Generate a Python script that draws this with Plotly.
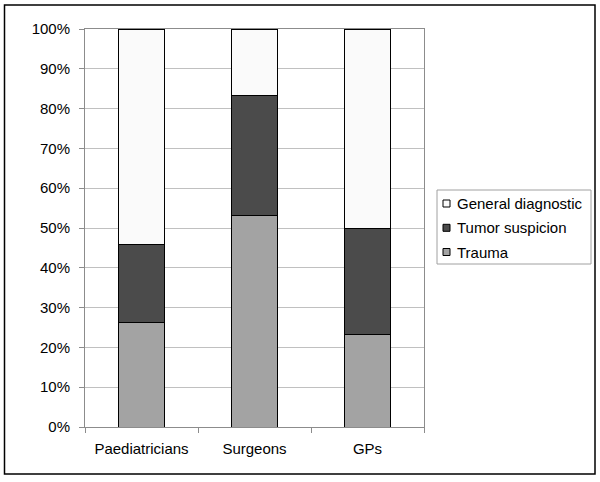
import plotly.graph_objects as go

categories = ["Paediatricians", "Surgeons", "GPs"]
series_names = ["Trauma", "Tumor suspicion", "General diagnostic"]
trauma = [26.2, 53.2, 23.3]
tumor = [19.6, 30.1, 26.7]
general = [54.2, 16.7, 50.0]
series_values = [trauma, tumor, general]
series_colors = ["#a3a3a3", "#4b4b4b", "#fafafa"]
y_ticks = [0, 10, 20, 30, 40, 50, 60, 70, 80, 90, 100]
y_tick_labels = [f"{v}%" for v in y_ticks]

fig = go.Figure()
for name, vals, col in zip(series_names, series_values, series_colors):
    fig.add_trace(go.Bar(name=name, x=categories, y=vals, showlegend=False,
                         marker=dict(color=col, line=dict(color="#000000", width=1))))

L, R, T, B = 85, 424, 29, 427
W, H = 600, 482
pw, ph = R - L, B - T
FONT = "Liberation Sans, Arial, sans-serif"
FS = 15

def px_x(p):
    return (p - L) / pw

def px_y(p):
    return (B - p) / ph

shapes = [dict(
    type="rect", xref="paper", yref="paper",
    x0=px_x(4.5), x1=px_x(595), y0=px_y(474), y1=px_y(5),
    line=dict(color="#000000", width=1.5), fillcolor="rgba(0,0,0,0)", layer="below",
)]
# legend box
shapes.append(dict(
    type="rect", xref="paper", yref="paper",
    x0=px_x(437), x1=px_x(591), y0=px_y(264), y1=px_y(190),
    line=dict(color="#a0a0a0", width=1), fillcolor="#ffffff", layer="below",
))
annotations = []
row_y = [203.5, 227.8, 252]
for i, (name, col) in enumerate(zip(reversed(series_names), reversed(series_colors))):
    yc = row_y[i]
    shapes.append(dict(
        type="rect", xref="paper", yref="paper",
        x0=px_x(443), x1=px_x(450), y0=px_y(yc + 3.5), y1=px_y(yc - 3.5),
        line=dict(color="#000000", width=1), fillcolor=col, layer="above",
    ))
    annotations.append(dict(
        text=name, xref="paper", yref="paper", x=px_x(455), y=px_y(yc),
        xanchor="left", yanchor="middle", showarrow=False,
        font=dict(family=FONT, size=FS, color="#000000"),
    ))

fig.update_layout(
    width=W, height=H,
    margin=dict(l=L, r=W - R, t=T, b=H - B, pad=0),
    barmode="stack",
    bargap=0.595,
    plot_bgcolor="#ffffff",
    paper_bgcolor="#ffffff",
    font=dict(family=FONT, size=FS, color="#000000"),
    showlegend=False,
    xaxis=dict(
        showline=True, linecolor="#8c8c8c", linewidth=1, mirror=True,
        ticks="outside", tickson="boundaries", ticklen=5, tickcolor="#8c8c8c",
        showgrid=False, ticklabelstandoff=8,
    ),
    yaxis=dict(
        range=[0, 100], tickvals=y_ticks, ticktext=y_tick_labels,
        showline=True, linecolor="#8c8c8c", linewidth=1, mirror=True,
        ticks="outside", ticklen=5, tickcolor="#8c8c8c",
        showgrid=True, gridcolor="#c0c0c0", gridwidth=1,
        zeroline=False, ticklabelstandoff=6,
    ),
    shapes=shapes,
    annotations=annotations,
)

fig.write_html("out.html", config={"displayModeBar": False},
               post_script="document.body.style.margin='0';")
